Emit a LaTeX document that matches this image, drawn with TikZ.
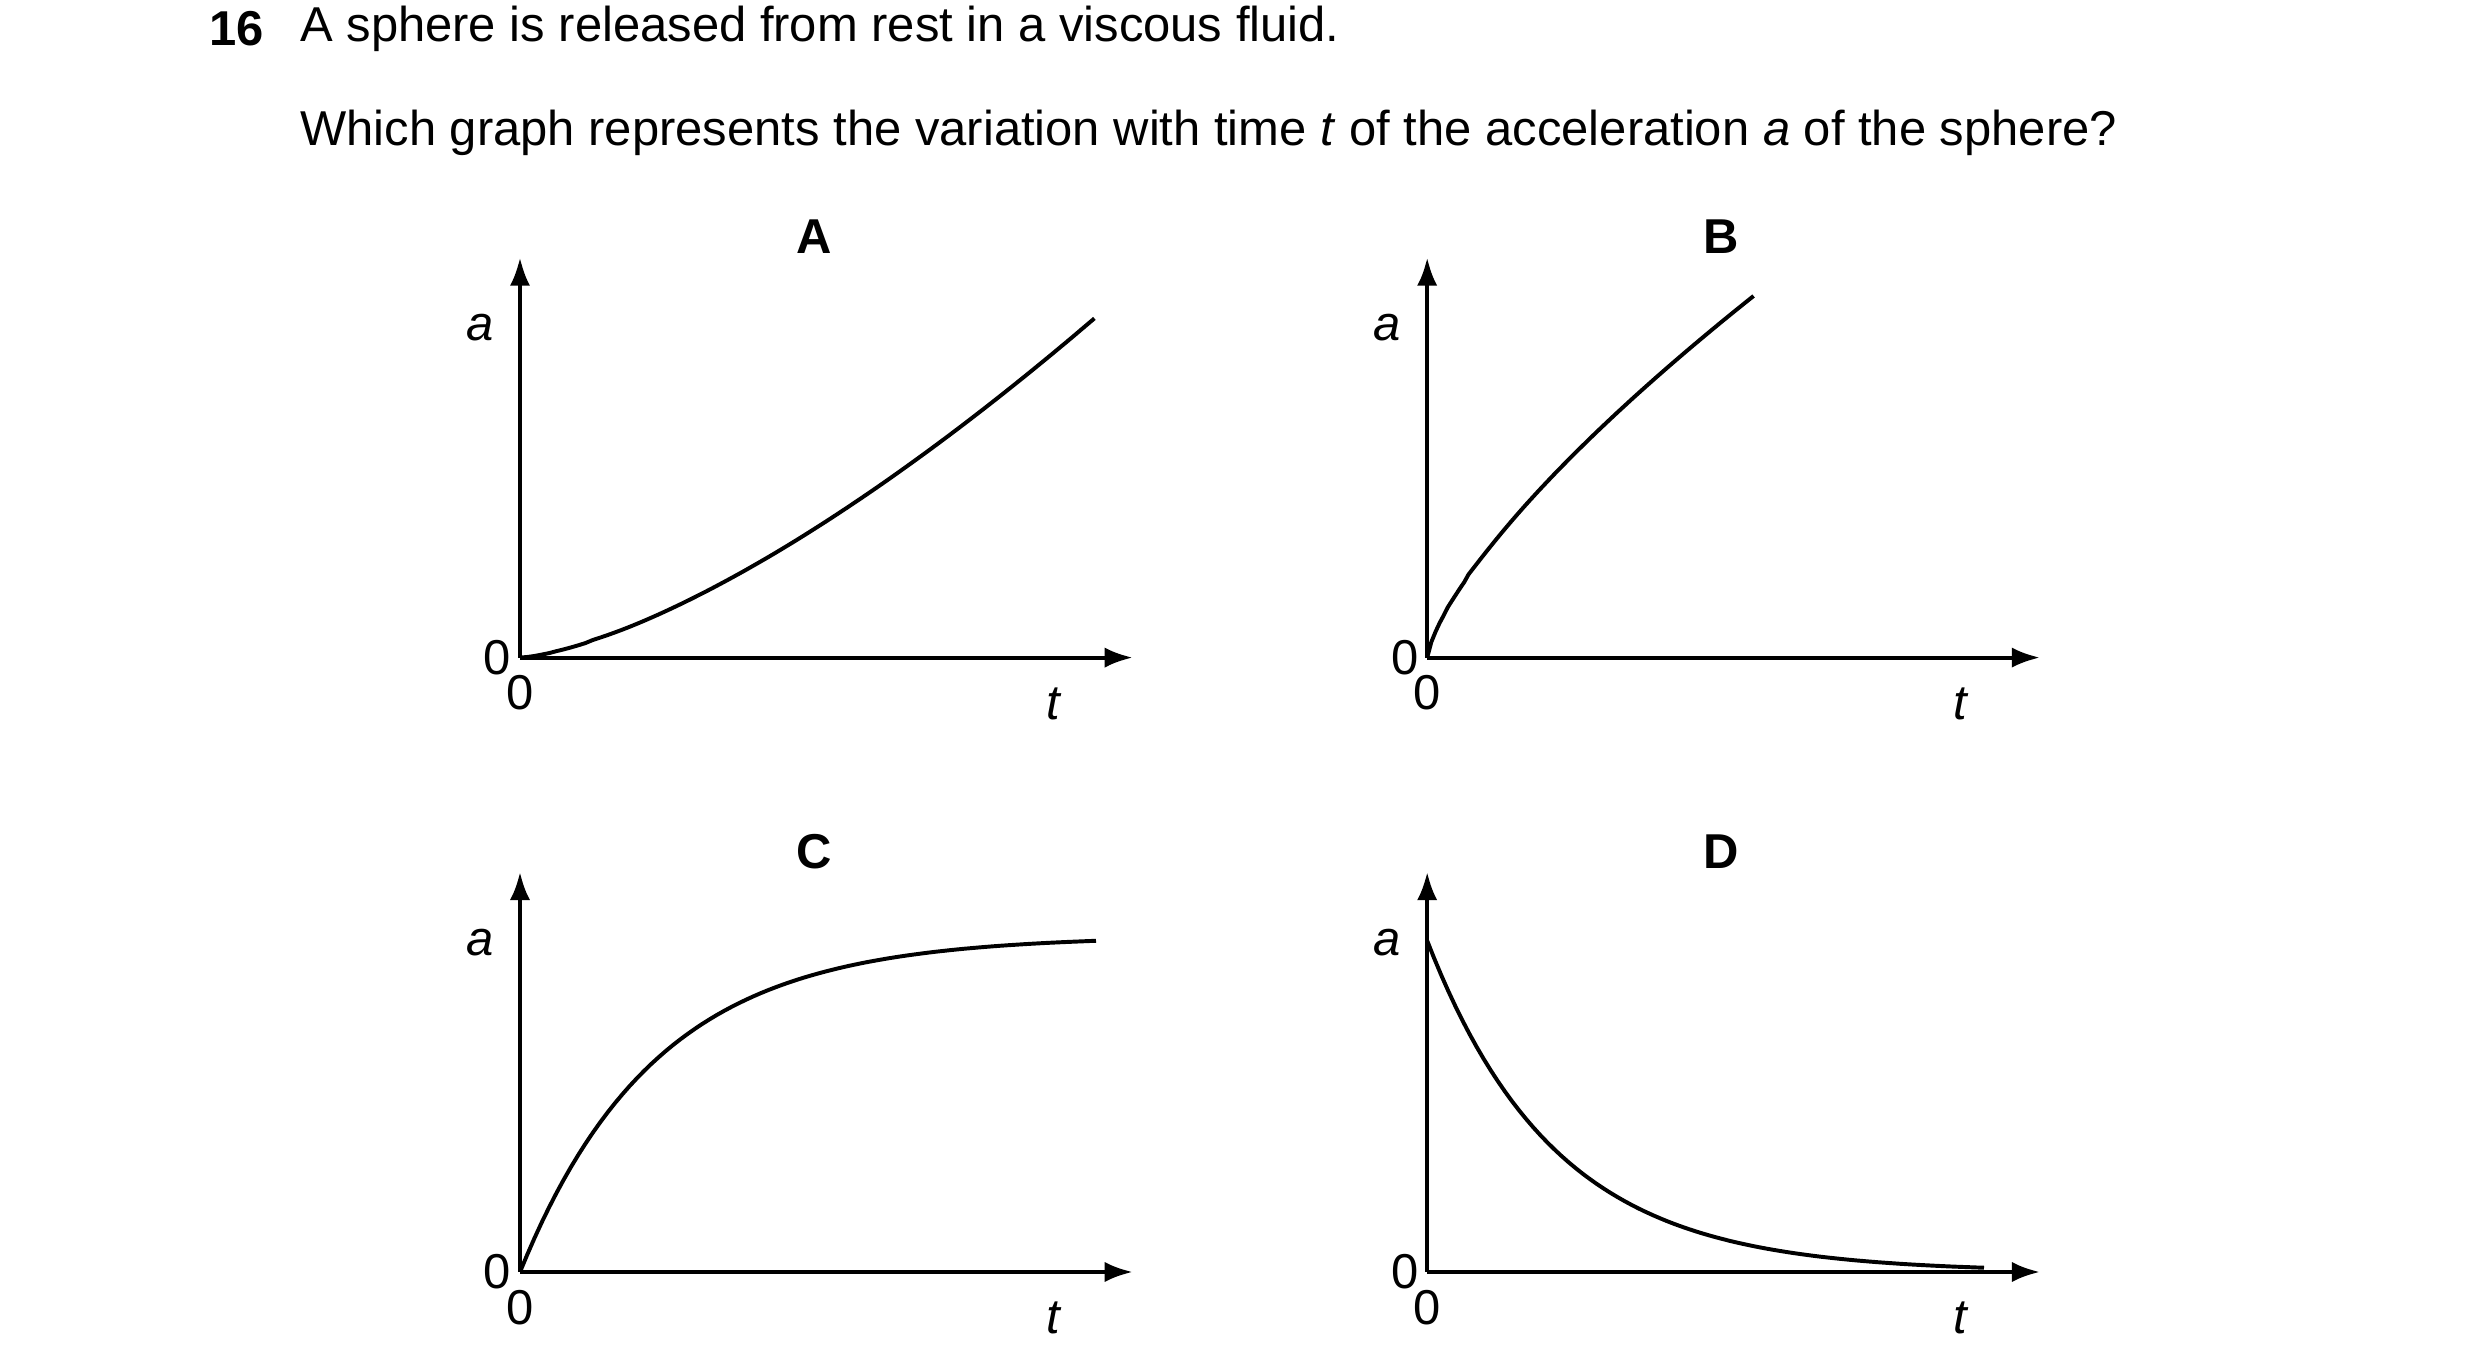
\documentclass[tikz,border=0pt]{standalone}
\usepackage{fontspec}
\setmainfont{Liberation Sans}
\usetikzlibrary{arrows.meta}
\begin{document}
\begin{tikzpicture}[x=0.01cm,y=-0.01cm,
  txt/.style={font=\fontsize{8.7}{10}\selectfont,inner sep=0},
  ax/.style={line width=0.7pt,-{Latex[length=5pt,width=3.6pt]}},
  cv/.style={line width=0.7pt}]
\useasboundingbox (0,0) rectangle (1550,846);
\node[txt,anchor=west] (n) at (130,18) {\textbf{16}};
\node[txt,anchor=west] (l1) at (187,18) {A sphere is released from rest in a viscous fluid.};
\node[txt,anchor=west] (l2) at (187,83) {Which graph represents the variation with time \textit{t} of the acceleration \textit{a} of the sphere?};
\foreach \ox/\oy/\L [count=\i] in {325/411/A,892/411/B,325/795/C,892/795/D}{
  \coordinate (o\i) at (\ox,\oy);
  \coordinate (yt\i) at (\ox,\oy-250);
  \coordinate (xt\i) at (\ox+383,\oy);
  \draw[ax] (o\i) -- (yt\i);
  \draw[ax] (o\i) -- (xt\i);
  \node[txt] (za\i) at (\ox-14,\oy) {0};
  \node[txt] (zb\i) at (\ox,\oy+22) {0};
  \node[txt] (a\i) at (\ox-25,\oy-206) {\textit{a}};
  \node[txt] (t\i) at (\ox+334,\oy+29) {\textit{t}};
  \node[txt] (L\i) at (\ox+184,\oy-263) {\textbf{\L}};
}
\draw[cv] plot[domain=0:359,samples=80,variable=\x] ({325+\x},{411-212*(\x/359)^1.45});
\draw[cv] plot[domain=0:204,samples=80,variable=\x] ({892+\x},{411-226*(\x/204)^0.72});
\draw[cv] plot[domain=0:360,samples=80,variable=\x] ({325+\x},{795-207*(1-exp(-\x/85))/(1-exp(-360/85))});
\draw[cv] plot[domain=0:348,samples=80,variable=\x] ({892+\x},{795-207*exp(-\x/80)});
\end{tikzpicture}
\end{document}
